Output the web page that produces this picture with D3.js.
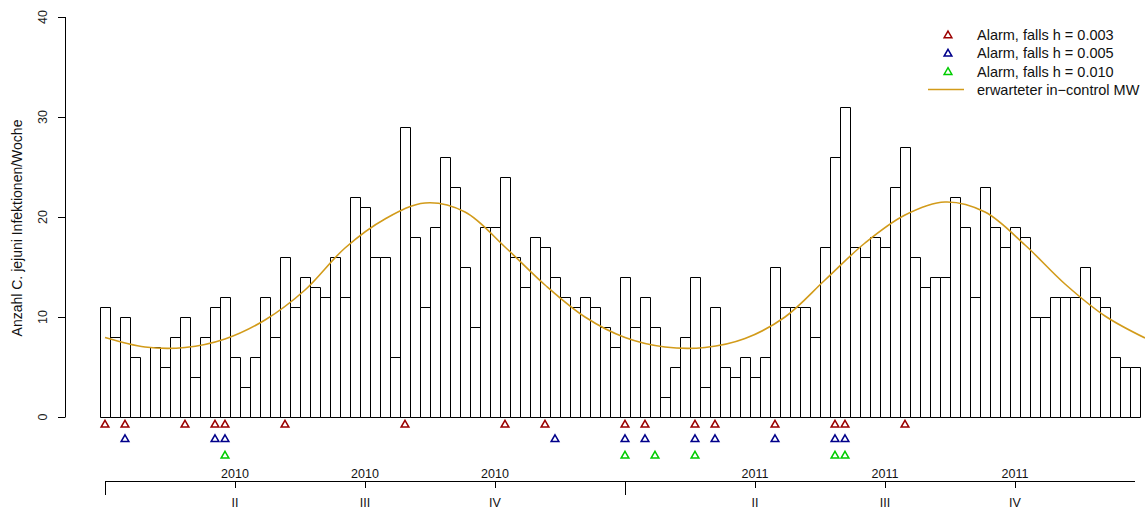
<!DOCTYPE html>
<html>
<head>
<meta charset="utf-8">
<script src="https://cdn.jsdelivr.net/npm/d3@7"></script>
<style>
  body { margin: 0; background: #fff; }
  svg { display: block; font-family: "Liberation Sans", Arial, Helvetica, sans-serif; }
</style>
</head>
<body>
<div id="chart"></div>
<script>
// weekly case counts, 104 weeks (2010-2011)
var counts = [11,8,10,6,0,7,5,8,10,4,8,11,12,6,3,6,12,8,16,11,14,13,12,16,12,22,21,
  16,16,6,29,18,11,19,26,23,15,9,19,19,24,16,13,18,17,14,12,11,12,11,9,7,14,
  9,12,9,2,5,8,14,3,11,5,4,6,4,6,15,11,11,11,8,17,26,31,17,16,18,17,
  23,27,16,13,14,14,22,19,12,23,19,17,19,18,10,10,12,12,12,15,12,11,6,5,5];

// expected in-control mean, read every 4 weeks
var meanWeeks = [1,5,9,13,17,21,25,29,33,37,41,45,49,53,57,61,65,69,73,77,81,85,89,93,97,101,105];
var meanValues = [7.95,7.0,6.95,7.8,9.7,12.7,16.9,19.8,21.4,20.5,17.0,13.2,10.0,7.95,7.0,6.95,7.85,10.0,13.7,17.4,20.2,21.5,20.5,17.2,13.3,10.1,7.9];

// alarm weeks for the three thresholds
var alarms003 = [1,3,9,12,13,19,31,41,45,53,55,60,62,68,74,75,81];
var alarms005 = [3,12,13,46,53,55,60,62,68,74,75];
var alarms010 = [13,53,56,60,74,75];

var yTicks = [0,10,20,30,40];
var quarterWeeks = [14,27,40,66,79,92];
var quarterYears = ["2010","2010","2010","2011","2011","2011"];
var quarterNames = ["II","III","IV","II","III","IV"];
var yearStartWeeks = [1,53];

var legendLabels = ["Alarm, falls h = 0.003","Alarm, falls h = 0.005","Alarm, falls h = 0.010","erwarteter in\u2212control MW"];

var width = 1145, height = 509;
var colors = {h003: "#9b0000", h005: "#00008b", h010: "#00cc00", mean: "#d29b1a"};
var fontSize = "12.5px";

var x = d3.scaleLinear().domain([0.5, 104.5]).range([100, 1140]);
var y = d3.scaleLinear().domain([0, 40]).range([417, 17]);

var svg = d3.select('#chart').append('svg')
  .attr('width', width)
  .attr('height', height);

// bars (drawn as paths so a zero count still shows its top edge)
svg.append('g').selectAll('path').data(counts)
  .enter().append('path')
  .attr('d', function (d, i) {
    var x0 = x(i + 0.5) + 0.5, x1 = x(i + 1.5) + 0.5;
    var y0 = y(0) + 0.5, y1 = y(d) + 0.5;
    return 'M' + x0 + ',' + y0 + 'V' + y1 + 'H' + x1 + 'V' + y0 + 'Z';
  })
  .attr('fill', '#fff')
  .attr('stroke', '#000')
  .attr('stroke-width', 1);

// expected mean curve
var line = d3.line()
  .x(function (d, i) { return x(meanWeeks[i]); })
  .y(function (d) { return y(d); })
  .curve(d3.curveCatmullRom);

svg.append('path')
  .datum(meanValues)
  .attr('d', line)
  .attr('fill', 'none')
  .attr('stroke', colors.mean)
  .attr('stroke-width', 1.6);

// alarm triangles below the bars
var tri = d3.symbol().type(d3.symbolTriangle).size(26);
var alarmRows = [
  {weeks: alarms003, level: -0.7, color: colors.h003},
  {weeks: alarms005, level: -2.15, color: colors.h005},
  {weeks: alarms010, level: -3.8, color: colors.h010}
];
alarmRows.forEach(function (row) {
  svg.append('g').selectAll('path').data(row.weeks)
    .enter().append('path')
    .attr('d', tri)
    .attr('transform', function (d) { return 'translate(' + x(d) + ',' + (y(row.level) + 0.8) + ')'; })
    .attr('fill', 'none')
    .attr('stroke', row.color)
    .attr('stroke-width', 1.5);
});

// y axis, R style
var yAxis = svg.append('g').attr('stroke', '#000');
yAxis.append('line')
  .attr('x1', 65.5).attr('x2', 65.5)
  .attr('y1', y(0)).attr('y2', y(40));
yAxis.selectAll('line.tick').data(yTicks)
  .enter().append('line')
  .attr('class', 'tick')
  .attr('x1', 58).attr('x2', 65.5)
  .attr('y1', function (d) { return Math.round(y(d)) + 0.5; })
  .attr('y2', function (d) { return Math.round(y(d)) + 0.5; });
svg.append('g').selectAll('text').data(yTicks)
  .enter().append('text')
  .attr('transform', function (d) { return 'translate(47,' + y(d) + ') rotate(-90)'; })
  .attr('text-anchor', 'middle')
  .attr('font-size', fontSize)
  .attr('fill', '#222')
  .text(function (d) { return d; });

svg.append('text')
  .attr('transform', 'translate(22,228) rotate(-90)')
  .attr('text-anchor', 'middle')
  .attr('font-size', "14px")
  .attr('fill', '#111')
  .text('Anzahl C. jejuni Infektionen/Woche');

// bottom time axis
var xAxisY = 481.5;
var bottom = svg.append('g').attr('stroke', '#000');
bottom.append('line')
  .attr('x1', x(1)).attr('x2', x(104))
  .attr('y1', xAxisY).attr('y2', xAxisY);
bottom.selectAll('line.major').data(yearStartWeeks)
  .enter().append('line')
  .attr('x1', function (d) { return Math.round(x(d)) + 0.5; })
  .attr('x2', function (d) { return Math.round(x(d)) + 0.5; })
  .attr('y1', xAxisY).attr('y2', 495);
bottom.selectAll('line.minor').data(quarterWeeks)
  .enter().append('line')
  .attr('x1', function (d) { return Math.round(x(d)) + 0.5; })
  .attr('x2', function (d) { return Math.round(x(d)) + 0.5; })
  .attr('y1', xAxisY).attr('y2', 488);

svg.append('g').selectAll('text').data(quarterWeeks)
  .enter().append('text')
  .attr('x', function (d) { return x(d); })
  .attr('y', 477.5)
  .attr('text-anchor', 'middle')
  .attr('font-size', fontSize)
  .attr('fill', '#111')
  .text(function (d, i) { return quarterYears[i]; });

svg.append('g').selectAll('text').data(quarterWeeks)
  .enter().append('text')
  .attr('x', function (d) { return x(d); })
  .attr('y', 507)
  .attr('text-anchor', 'middle')
  .attr('font-size', fontSize)
  .attr('fill', '#111')
  .text(function (d, i) { return quarterNames[i]; });

// legend
var legend = svg.append('g');
var legendColors = [colors.h003, colors.h005, colors.h010, colors.mean];
var legendY = [35, 53.3, 71.7, 89.5];
legendLabels.forEach(function (label, i) {
  if (i < 3) {
    legend.append('path')
      .attr('d', tri)
      .attr('transform', 'translate(948,' + (legendY[i] + 0.5) + ')')
      .attr('fill', 'none')
      .attr('stroke', legendColors[i])
      .attr('stroke-width', 1.5);
  } else {
    legend.append('line')
      .attr('x1', 928).attr('x2', 964)
      .attr('y1', legendY[i]).attr('y2', legendY[i])
      .attr('stroke', legendColors[i])
      .attr('stroke-width', 1.6);
  }
  legend.append('text')
    .attr('x', 977)
    .attr('y', legendY[i] + 5)
    .attr('font-size', "14.5px")
    .attr('fill', '#111')
    .text(label);
});
</script>
</body>
</html>
